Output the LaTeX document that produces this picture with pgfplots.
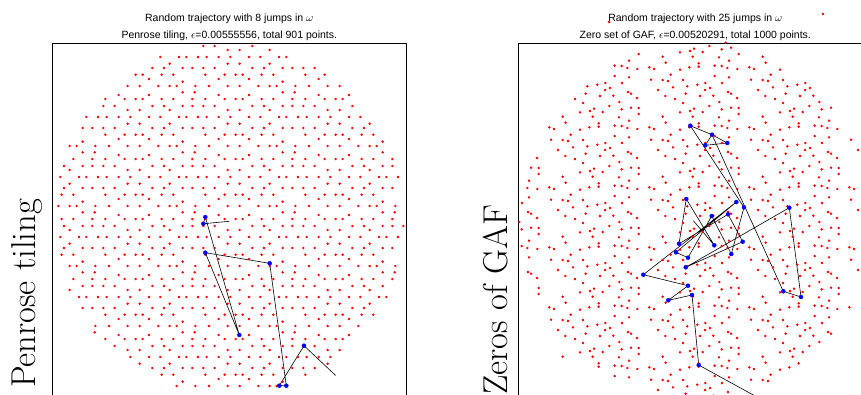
\documentclass[border=0pt]{standalone}
\usepackage{pgfplots}
\pgfplotsset{compat=1.18}
\usepackage{pgfplotstable}
\usepackage{fontspec}
\newfontfamily\arial{Liberation Sans}
\pgfplotstableread[row sep=\\]{x y\\
203.3 46\\ 214.7 46\\ 252.3 46\\
227.7 50\\ 239.7 50\\ 269.7 50\\
160.3 57\\ 179 57\\ 186.3 57\\ 198 57\\ 206.7 57\\ 218.7 57\\ 230.3 57\\ 249 57\\ 260.3 57\\ 279 57\\ 286.3 57\\
169.7 63.7\\ 227.7 63.7\\ 239.7 63.7\\ 269.7 63.7\\
152.3 68\\ 164 68\\ 182.7 68\\ 192.3 68\\ 203.3 68\\ 214.7 68\\ 252.3 68\\ 264 68\\ 282.7 68\\ 292.3 68\\ 303.3 68\\ 314.7 68\\
135.7 74.7\\ 142.7 74.7\\ 161.7 74.7\\ 173.3 74.7\\ 205.3 74.7\\ 224.7 74.7\\ 235.7 74.7\\ 242.7 74.7\\ 261.7 74.7\\ 273.3 74.7\\ 305.3 74.7\\ 324.7 74.7\\
149 79\\ 218.7 79\\ 249 79\\ 318.7 79\\
182.7 81.7\\ 282.7 81.7\\
127.7 86\\ 139.7 86\\ 158.3 86\\ 169.7 86\\ 176.7 86\\ 195.3 86\\ 209 86\\ 227.7 86\\ 239.7 86\\ 258.3 86\\ 269.7 86\\ 276.7 86\\ 295.3 86\\ 309 86\\ 327.7 86\\ 339.7 86\\
182.7 92.3\\ 194.7 92.3\\ 282.7 92.3\\ 294.7 92.3\\
118.7 95\\ 149 95\\ 218.7 95\\ 249 95\\ 318.7 95\\ 349 95\\
105.3 99\\ 124.7 99\\ 135.7 99\\ 142.7 99\\ 161.7 99\\ 173.3 99\\ 192.3 99\\ 205.3 99\\ 224.7 99\\ 235.7 99\\ 242.7 99\\ 261.7 99\\ 273.3 99\\ 292.3 99\\ 305.3 99\\ 324.7 99\\ 335.7 99\\ 342.7 99\\
103.3 106\\ 114.7 106\\ 152.3 106\\ 164 106\\ 182.7 106\\ 192.3 106\\ 203.3 106\\ 214.7 106\\ 252.3 106\\ 264 106\\ 282.7 106\\ 292.3 106\\ 303.3 106\\ 314.7 106\\ 352.3 106\\
127.7 110\\ 139.7 110\\ 169.7 110\\ 227.7 110\\ 239.7 110\\ 269.7 110\\ 327.7 110\\ 339.7 110\\
86.3 117\\ 98 117\\ 106.7 117\\ 118.7 117\\ 130.3 117\\ 149 117\\ 160.3 117\\ 179 117\\ 186.3 117\\ 198 117\\ 206.7 117\\ 218.7 117\\ 230.3 117\\ 249 117\\ 260.3 117\\ 279 117\\ 286.3 117\\ 298 117\\ 306.7 117\\ 318.7 117\\ 330.3 117\\ 349 117\\ 360.3 117\\
127.7 123.7\\ 139.7 123.7\\ 169.7 123.7\\ 227.7 123.7\\ 239.7 123.7\\ 269.7 123.7\\ 327.7 123.7\\ 339.7 123.7\\ 369.7 123.7\\
82.7 128\\ 92.3 128\\ 103.3 128\\ 114.7 128\\ 152.3 128\\ 164 128\\ 182.7 128\\ 192.3 128\\ 203.3 128\\ 214.7 128\\ 252.3 128\\ 264 128\\ 282.7 128\\ 292.3 128\\ 303.3 128\\ 314.7 128\\ 352.3 128\\ 364 128\\
105.3 134.7\\ 124.7 134.7\\ 135.7 134.7\\ 142.7 134.7\\ 161.7 134.7\\ 173.3 134.7\\ 205.3 134.7\\ 224.7 134.7\\ 235.7 134.7\\ 242.7 134.7\\ 261.7 134.7\\ 273.3 134.7\\ 305.3 134.7\\ 324.7 134.7\\ 335.7 134.7\\ 342.7 134.7\\ 361.7 134.7\\ 373.3 134.7\\
118.7 139\\ 149 139\\ 218.7 139\\ 249 139\\ 318.7 139\\ 349 139\\
82.7 141.7\\ 182.7 141.7\\ 282.7 141.7\\ 382.7 141.7\\
69.7 146\\ 76.7 146\\ 95.3 146\\ 109 146\\ 127.7 146\\ 139.7 146\\ 158.3 146\\ 169.7 146\\ 176.7 146\\ 195.3 146\\ 209 146\\ 227.7 146\\ 239.7 146\\ 258.3 146\\ 269.7 146\\ 276.7 146\\ 295.3 146\\ 309 146\\ 327.7 146\\ 339.7 146\\ 358.3 146\\ 369.7 146\\ 376.7 146\\
82.7 152.3\\ 94.7 152.3\\ 182.7 152.3\\ 194.7 152.3\\ 282.7 152.3\\ 294.7 152.3\\ 382.7 152.3\\
118.7 155\\ 149 155\\ 218.7 155\\ 249 155\\ 318.7 155\\ 349 155\\
73.3 159\\ 92.3 159\\ 105.3 159\\ 124.7 159\\ 135.7 159\\ 142.7 159\\ 161.7 159\\ 173.3 159\\ 192.3 159\\ 205.3 159\\ 224.7 159\\ 235.7 159\\ 242.7 159\\ 261.7 159\\ 273.3 159\\ 292.3 159\\ 305.3 159\\ 324.7 159\\ 335.7 159\\ 342.7 159\\ 361.7 159\\ 373.3 159\\ 392.3 159\\
64 166\\ 82.7 166\\ 92.3 166\\ 103.3 166\\ 114.7 166\\ 152.3 166\\ 164 166\\ 182.7 166\\ 192.3 166\\ 203.3 166\\ 214.7 166\\ 252.3 166\\ 264 166\\ 282.7 166\\ 292.3 166\\ 303.3 166\\ 314.7 166\\ 352.3 166\\ 364 166\\ 382.7 166\\ 392.3 166\\
69.7 170\\ 127.7 170\\ 139.7 170\\ 169.7 170\\ 227.7 170\\ 239.7 170\\ 269.7 170\\ 327.7 170\\ 339.7 170\\ 369.7 170\\
60.3 177\\ 79 177\\ 86.3 177\\ 98 177\\ 106.7 177\\ 118.7 177\\ 130.3 177\\ 149 177\\ 160.3 177\\ 179 177\\ 186.3 177\\ 198 177\\ 206.7 177\\ 218.7 177\\ 230.3 177\\ 249 177\\ 260.3 177\\ 279 177\\ 286.3 177\\ 298 177\\ 306.7 177\\ 318.7 177\\ 330.3 177\\ 349 177\\ 360.3 177\\ 379 177\\ 386.3 177\\ 398 177\\
69.7 183.7\\ 127.7 183.7\\ 139.7 183.7\\ 169.7 183.7\\ 227.7 183.7\\ 239.7 183.7\\ 269.7 183.7\\ 327.7 183.7\\ 339.7 183.7\\ 369.7 183.7\\
64 188\\ 82.7 188\\ 92.3 188\\ 103.3 188\\ 114.7 188\\ 152.3 188\\ 164 188\\ 182.7 188\\ 192.3 188\\ 203.3 188\\ 214.7 188\\ 252.3 188\\ 264 188\\ 282.7 188\\ 292.3 188\\ 303.3 188\\ 314.7 188\\ 352.3 188\\ 364 188\\ 382.7 188\\ 392.3 188\\
61.7 194.7\\ 73.3 194.7\\ 105.3 194.7\\ 124.7 194.7\\ 135.7 194.7\\ 142.7 194.7\\ 161.7 194.7\\ 173.3 194.7\\ 205.3 194.7\\ 224.7 194.7\\ 235.7 194.7\\ 242.7 194.7\\ 261.7 194.7\\ 273.3 194.7\\ 305.3 194.7\\ 324.7 194.7\\ 335.7 194.7\\ 342.7 194.7\\ 361.7 194.7\\ 373.3 194.7\\
118.7 199\\ 149 199\\ 218.7 199\\ 249 199\\ 318.7 199\\ 349 199\\
82.7 201.7\\ 182.7 201.7\\ 282.7 201.7\\ 382.7 201.7\\
58.3 206\\ 69.7 206\\ 76.7 206\\ 95.3 206\\ 109 206\\ 127.7 206\\ 139.7 206\\ 158.3 206\\ 169.7 206\\ 176.7 206\\ 195.3 206\\ 209 206\\ 227.7 206\\ 239.7 206\\ 258.3 206\\ 269.7 206\\ 276.7 206\\ 295.3 206\\ 309 206\\ 327.7 206\\ 339.7 206\\ 358.3 206\\ 369.7 206\\ 376.7 206\\ 395.3 206\\
82.7 212.3\\ 94.7 212.3\\ 182.7 212.3\\ 194.7 212.3\\ 282.7 212.3\\ 294.7 212.3\\ 382.7 212.3\\ 394.7 212.3\\
118.7 215\\ 149 215\\ 218.7 215\\ 249 215\\ 318.7 215\\ 349 215\\
61.7 219\\ 73.3 219\\ 92.3 219\\ 105.3 219\\ 124.7 219\\ 135.7 219\\ 142.7 219\\ 161.7 219\\ 173.3 219\\ 192.3 219\\ 205.3 219\\ 224.7 219\\ 235.7 219\\ 242.7 219\\ 261.7 219\\ 273.3 219\\ 292.3 219\\ 305.3 219\\ 324.7 219\\ 335.7 219\\ 342.7 219\\ 361.7 219\\ 373.3 219\\ 392.3 219\\
64 226\\ 82.7 226\\ 92.3 226\\ 103.3 226\\ 114.7 226\\ 152.3 226\\ 164 226\\ 182.7 226\\ 192.3 226\\ 203.3 226\\ 214.7 226\\ 252.3 226\\ 264 226\\ 282.7 226\\ 292.3 226\\ 303.3 226\\ 314.7 226\\ 352.3 226\\ 364 226\\ 382.7 226\\ 392.3 226\\ 403.3 226\\
69.7 230\\ 127.7 230\\ 139.7 230\\ 169.7 230\\ 227.7 230\\ 239.7 230\\ 269.7 230\\ 327.7 230\\ 339.7 230\\ 369.7 230\\
60.3 237\\ 79 237\\ 86.3 237\\ 98 237\\ 106.7 237\\ 118.7 237\\ 130.3 237\\ 149 237\\ 160.3 237\\ 179 237\\ 186.3 237\\ 198 237\\ 206.7 237\\ 218.7 237\\ 230.3 237\\ 249 237\\ 260.3 237\\ 279 237\\ 286.3 237\\ 298 237\\ 306.7 237\\ 318.7 237\\ 330.3 237\\ 349 237\\ 360.3 237\\ 379 237\\ 386.3 237\\ 398 237\\
69.7 243.7\\ 127.7 243.7\\ 139.7 243.7\\ 169.7 243.7\\ 227.7 243.7\\ 239.7 243.7\\ 269.7 243.7\\ 327.7 243.7\\ 339.7 243.7\\ 369.7 243.7\\
64 248\\ 82.7 248\\ 92.3 248\\ 103.3 248\\ 114.7 248\\ 152.3 248\\ 164 248\\ 182.7 248\\ 192.3 248\\ 203.3 248\\ 214.7 248\\ 252.3 248\\ 264 248\\ 282.7 248\\ 292.3 248\\ 303.3 248\\ 314.7 248\\ 352.3 248\\ 364 248\\ 382.7 248\\ 392.3 248\\
61.7 254.7\\ 73.3 254.7\\ 105.3 254.7\\ 124.7 254.7\\ 135.7 254.7\\ 142.7 254.7\\ 161.7 254.7\\ 173.3 254.7\\ 205.3 254.7\\ 224.7 254.7\\ 235.7 254.7\\ 242.7 254.7\\ 261.7 254.7\\ 273.3 254.7\\ 305.3 254.7\\ 324.7 254.7\\ 335.7 254.7\\ 342.7 254.7\\ 361.7 254.7\\ 373.3 254.7\\
118.7 259\\ 149 259\\ 218.7 259\\ 249 259\\ 318.7 259\\ 349 259\\
82.7 261.7\\ 182.7 261.7\\ 282.7 261.7\\ 382.7 261.7\\
69.7 266\\ 76.7 266\\ 95.3 266\\ 109 266\\ 127.7 266\\ 139.7 266\\ 158.3 266\\ 169.7 266\\ 176.7 266\\ 195.3 266\\ 209 266\\ 227.7 266\\ 239.7 266\\ 258.3 266\\ 269.7 266\\ 276.7 266\\ 295.3 266\\ 309 266\\ 327.7 266\\ 339.7 266\\ 358.3 266\\ 369.7 266\\ 376.7 266\\ 395.3 266\\
82.7 272.3\\ 94.7 272.3\\ 182.7 272.3\\ 194.7 272.3\\ 282.7 272.3\\ 294.7 272.3\\ 382.7 272.3\\ 394.7 272.3\\
118.7 275\\ 149 275\\ 218.7 275\\ 249 275\\ 318.7 275\\ 349 275\\
73.3 279\\ 92.3 279\\ 105.3 279\\ 124.7 279\\ 135.7 279\\ 142.7 279\\ 161.7 279\\ 173.3 279\\ 192.3 279\\ 205.3 279\\ 224.7 279\\ 235.7 279\\ 242.7 279\\ 261.7 279\\ 273.3 279\\ 292.3 279\\ 305.3 279\\ 324.7 279\\ 335.7 279\\ 342.7 279\\ 361.7 279\\ 373.3 279\\ 392.3 279\\
82.7 286\\ 92.3 286\\ 103.3 286\\ 114.7 286\\ 152.3 286\\ 164 286\\ 182.7 286\\ 192.3 286\\ 203.3 286\\ 214.7 286\\ 252.3 286\\ 264 286\\ 282.7 286\\ 292.3 286\\ 303.3 286\\ 314.7 286\\ 352.3 286\\ 364 286\\ 382.7 286\\
69.7 290\\ 127.7 290\\ 139.7 290\\ 169.7 290\\ 227.7 290\\ 239.7 290\\ 269.7 290\\ 327.7 290\\ 339.7 290\\ 369.7 290\\
79 297\\ 86.3 297\\ 98 297\\ 106.7 297\\ 118.7 297\\ 130.3 297\\ 149 297\\ 160.3 297\\ 179 297\\ 186.3 297\\ 198 297\\ 206.7 297\\ 218.7 297\\ 230.3 297\\ 249 297\\ 260.3 297\\ 279 297\\ 286.3 297\\ 298 297\\ 306.7 297\\ 318.7 297\\ 330.3 297\\ 349 297\\ 360.3 297\\ 379 297\\ 386.3 297\\
127.7 303.7\\ 139.7 303.7\\ 169.7 303.7\\ 227.7 303.7\\ 239.7 303.7\\ 269.7 303.7\\ 327.7 303.7\\ 339.7 303.7\\ 369.7 303.7\\
82.7 308\\ 92.3 308\\ 103.3 308\\ 114.7 308\\ 152.3 308\\ 164 308\\ 182.7 308\\ 192.3 308\\ 203.3 308\\ 214.7 308\\ 252.3 308\\ 264 308\\ 282.7 308\\ 292.3 308\\ 303.3 308\\ 314.7 308\\ 352.3 308\\ 364 308\\
105.3 314.7\\ 124.7 314.7\\ 135.7 314.7\\ 142.7 314.7\\ 161.7 314.7\\ 173.3 314.7\\ 205.3 314.7\\ 224.7 314.7\\ 235.7 314.7\\ 242.7 314.7\\ 261.7 314.7\\ 273.3 314.7\\ 305.3 314.7\\ 324.7 314.7\\ 335.7 314.7\\ 342.7 314.7\\ 361.7 314.7\\ 373.3 314.7\\
118.7 319\\ 149 319\\ 218.7 319\\ 249 319\\ 318.7 319\\ 349 319\\
182.7 321.7\\ 282.7 321.7\\
95.3 326\\ 109 326\\ 127.7 326\\ 139.7 326\\ 158.3 326\\ 169.7 326\\ 176.7 326\\ 195.3 326\\ 209 326\\ 227.7 326\\ 239.7 326\\ 258.3 326\\ 269.7 326\\ 276.7 326\\ 295.3 326\\ 309 326\\ 327.7 326\\ 339.7 326\\ 358.3 326\\
94.7 332.3\\ 182.7 332.3\\ 194.7 332.3\\ 282.7 332.3\\ 294.7 332.3\\
118.7 335\\ 149 335\\ 218.7 335\\ 249 335\\ 318.7 335\\ 349 335\\
105.3 339\\ 124.7 339\\ 135.7 339\\ 142.7 339\\ 161.7 339\\ 173.3 339\\ 192.3 339\\ 205.3 339\\ 224.7 339\\ 235.7 339\\ 242.7 339\\ 261.7 339\\ 273.3 339\\ 292.3 339\\ 305.3 339\\ 324.7 339\\ 335.7 339\\ 342.7 339\\
114.7 346\\ 152.3 346\\ 164 346\\ 182.7 346\\ 192.3 346\\ 203.3 346\\ 214.7 346\\ 252.3 346\\ 264 346\\ 282.7 346\\ 292.3 346\\ 303.3 346\\ 314.7 346\\
127.7 350\\ 139.7 350\\ 169.7 350\\ 227.7 350\\ 239.7 350\\ 269.7 350\\ 327.7 350\\ 339.7 350\\
130.3 357\\ 149 357\\ 160.3 357\\ 179 357\\ 186.3 357\\ 198 357\\ 206.7 357\\ 218.7 357\\ 230.3 357\\ 249 357\\ 260.3 357\\ 279 357\\ 286.3 357\\ 298 357\\ 306.7 357\\ 318.7 357\\ 330.3 357\\
139.7 363.7\\ 169.7 363.7\\ 227.7 363.7\\ 239.7 363.7\\ 269.7 363.7\\ 327.7 363.7\\
152.3 368\\ 164 368\\ 182.7 368\\ 192.3 368\\ 203.3 368\\ 214.7 368\\ 252.3 368\\ 264 368\\ 282.7 368\\ 292.3 368\\ 303.3 368\\ 314.7 368\\
161.7 374.7\\ 173.3 374.7\\ 205.3 374.7\\ 224.7 374.7\\ 235.7 374.7\\ 242.7 374.7\\ 261.7 374.7\\ 273.3 374.7\\ 305.3 374.7\\
218.7 379\\ 249 379\\
182.7 381.7\\ 282.7 381.7\\
176.7 386\\ 195.3 386\\ 209 386\\ 227.7 386\\ 239.7 386\\ 258.3 386\\ 269.7 386\\ 276.7 386\\
}\penrose
\pgfplotstableread[row sep=\\]{x y\\
357 14\\ 143 22\\ 259.7 42.7\\
243.3 46\\ 228 48.7\\ 224 51\\ 214 52.3\\ 236.7 52\\ 255.7 49.3\\ 265 47.7\\ 196.7 56.7\\ 226.7 56.7\\ 253 57.3\\ 272.7 54\\ 172.7 54\\ 296.7 56.7\\
148.7 65.7\\ 155.7 66\\ 161.3 68\\ 171.3 69\\ 163 60.7\\ 148.7 76\\ 163 77.3\\ 139.3 83\\ 131.3 84.7\\ 121.3 86.3\\ 156 83\\ 139 90\\ 144 88\\ 119.7 93.7\\ 147.3 95.7\\ 162 92\\ 165 93.7\\ 109 99\\ 134 96\\ 171 98\\ 117 103\\ 153.3 102\\ 143.3 106\\ 128 108.7\\ 124 111\\ 114 112.3\\ 136.7 112\\ 155.7 109.3\\ 165 107.7\\ 172.7 108\\ 96.7 116.7\\ 126.7 116.7\\ 153 117.3\\ 172.7 114\\
183.3 67.3\\ 188 69\\ 199.7 62.7\\ 214 69.7\\ 223.3 67.3\\ 232.7 63.3\\ 232.7 66.7\\ 248.7 65.7\\ 255.7 66\\ 261.3 68\\ 271.3 69\\ 263 60.7\\ 204.7 74.7\\ 185 79.7\\ 196.7 80\\ 202 81\\ 217 80\\ 248.7 76\\ 263 77.3\\ 239.3 83\\ 231.3 84.7\\ 221.3 86.3\\ 256 83\\ 207 87.3\\ 192 90\\ 239 90\\ 244 88\\ 219.7 93.7\\ 247.3 95.7\\ 262 92\\ 265 93.7\\ 199.3 96\\ 209 99\\ 234 96\\ 271 98\\ 217 103\\ 253.3 102\\ 243.3 106\\ 228 108.7\\ 224 111\\ 214 112.3\\ 236.7 112\\ 255.7 109.3\\ 265 107.7\\ 272.7 108\\ 196.7 116.7\\ 226.7 116.7\\ 253 117.3\\ 272.7 114\\
283.3 67.3\\ 288 69\\ 299.7 62.7\\ 314 69.7\\ 304.7 74.7\\ 285 79.7\\ 296.7 80\\ 302 81\\ 317 80\\ 339.3 83\\ 331.3 84.7\\ 321.3 86.3\\ 307 87.3\\ 292 90\\ 339 90\\ 344 88\\ 319.7 93.7\\ 347.3 95.7\\ 299.3 96\\ 309 99\\ 334 96\\ 317 103\\ 353.3 102\\ 343.3 106\\ 328 108.7\\ 324 111\\ 314 112.3\\ 336.7 112\\ 355.7 109.3\\ 365 107.7\\ 296.7 116.7\\ 326.7 116.7\\ 353 117.3\\
83.3 127.3\\ 88 129\\ 99.7 122.7\\ 114 129.7\\ 123.3 127.3\\ 132.7 123.3\\ 132.7 126.7\\ 148.7 125.7\\ 155.7 126\\ 161.3 128\\ 171.3 129\\ 163 120.7\\ 104.7 134.7\\ 85 139.7\\ 96.7 140\\ 102 141\\ 117 140\\ 148.7 136\\ 163 137.3\\ 139.3 143\\ 131.3 144.7\\ 121.3 146.3\\ 156 143\\ 107 147.3\\ 92 150\\ 139 150\\ 144 148\\ 119.7 153.7\\ 147.3 155.7\\ 162 152\\ 165 153.7\\ 99.3 156\\ 109 159\\ 134 156\\ 171 158\\ 117 163\\ 153.3 162\\ 143.3 166\\ 128 168.7\\ 124 171\\ 114 172.3\\ 136.7 172\\ 155.7 169.3\\ 165 167.7\\ 172.7 168\\ 96.7 176.7\\ 126.7 176.7\\ 153 177.3\\ 172.7 174\\
183.3 127.3\\ 188 129\\ 199.7 122.7\\ 214 129.7\\ 223.3 127.3\\ 232.7 123.3\\ 232.7 126.7\\ 248.7 125.7\\ 255.7 126\\ 261.3 128\\ 271.3 129\\ 263 120.7\\ 204.7 134.7\\ 185 139.7\\ 196.7 140\\ 202 141\\ 217 140\\ 248.7 136\\ 263 137.3\\ 239.3 143\\ 231.3 144.7\\ 221.3 146.3\\ 256 143\\ 207 147.3\\ 192 150\\ 239 150\\ 244 148\\ 219.7 153.7\\ 247.3 155.7\\ 262 152\\ 265 153.7\\ 199.3 156\\ 209 159\\ 234 156\\ 271 158\\ 217 163\\ 253.3 162\\ 243.3 166\\ 228 168.7\\ 224 171\\ 214 172.3\\ 236.7 172\\ 255.7 169.3\\ 265 167.7\\ 272.7 168\\ 196.7 176.7\\ 226.7 176.7\\ 253 177.3\\ 272.7 174\\
283.3 127.3\\ 288 129\\ 299.7 122.7\\ 314 129.7\\ 323.3 127.3\\ 332.7 123.3\\ 332.7 126.7\\ 348.7 125.7\\ 355.7 126\\ 361.3 128\\ 371.3 129\\ 363 120.7\\ 304.7 134.7\\ 285 139.7\\ 296.7 140\\ 302 141\\ 317 140\\ 348.7 136\\ 363 137.3\\ 339.3 143\\ 331.3 144.7\\ 321.3 146.3\\ 356 143\\ 307 147.3\\ 292 150\\ 339 150\\ 344 148\\ 319.7 153.7\\ 347.3 155.7\\ 362 152\\ 365 153.7\\ 299.3 156\\ 309 159\\ 334 156\\ 371 158\\ 317 163\\ 353.3 162\\ 343.3 166\\ 328 168.7\\ 324 171\\ 314 172.3\\ 336.7 172\\ 355.7 169.3\\ 365 167.7\\ 372.7 168\\ 296.7 176.7\\ 326.7 176.7\\ 353 177.3\\ 372.7 174\\
71 158\\ 65 167.7\\ 72.7 168\\ 72.7 174\\ 385 139.7\\ 392 150\\
61.3 188\\ 71.3 189\\ 63 180.7\\ 63 197.3\\ 56 203\\ 62 212\\ 65 213.7\\ 71 218\\ 53.3 222\\ 55.7 229.3\\ 65 227.7\\ 72.7 228\\ 72.7 234\\
383.3 187.3\\ 388 189\\ 385 199.7\\ 392 210\\
83.3 187.3\\ 88 189\\ 99.7 182.7\\ 114 189.7\\ 123.3 187.3\\ 132.7 183.3\\ 132.7 186.7\\ 148.7 185.7\\ 155.7 186\\ 161.3 188\\ 171.3 189\\ 163 180.7\\ 104.7 194.7\\ 85 199.7\\ 96.7 200\\ 102 201\\ 117 200\\ 148.7 196\\ 163 197.3\\ 139.3 203\\ 131.3 204.7\\ 121.3 206.3\\ 156 203\\ 107 207.3\\ 92 210\\ 139 210\\ 144 208\\ 119.7 213.7\\ 147.3 215.7\\ 162 212\\ 165 213.7\\ 99.3 216\\ 109 219\\ 134 216\\ 171 218\\ 117 223\\ 153.3 222\\ 143.3 226\\ 128 228.7\\ 124 231\\ 114 232.3\\ 136.7 232\\ 155.7 229.3\\ 165 227.7\\ 172.7 228\\ 96.7 236.7\\ 126.7 236.7\\ 153 237.3\\ 172.7 234\\
183.3 187.3\\ 188 189\\ 199.7 182.7\\ 214 189.7\\ 223.3 187.3\\ 232.7 183.3\\ 232.7 186.7\\ 248.7 185.7\\ 255.7 186\\ 261.3 188\\ 271.3 189\\ 263 180.7\\ 204.7 194.7\\ 185 199.7\\ 196.7 200\\ 202 201\\ 217 200\\ 248.7 196\\ 263 197.3\\ 239.3 203\\ 231.3 204.7\\ 221.3 206.3\\ 256 203\\ 207 207.3\\ 192 210\\ 239 210\\ 244 208\\ 219.7 213.7\\ 247.3 215.7\\ 262 212\\ 265 213.7\\ 199.3 216\\ 209 219\\ 234 216\\ 271 218\\ 217 223\\ 253.3 222\\ 243.3 226\\ 228 228.7\\ 224 231\\ 214 232.3\\ 236.7 232\\ 255.7 229.3\\ 265 227.7\\ 272.7 228\\ 196.7 236.7\\ 226.7 236.7\\ 253 237.3\\ 272.7 234\\
283.3 187.3\\ 288 189\\ 299.7 182.7\\ 314 189.7\\ 323.3 187.3\\ 332.7 183.3\\ 332.7 186.7\\ 348.7 185.7\\ 355.7 186\\ 361.3 188\\ 371.3 189\\ 363 180.7\\ 304.7 194.7\\ 285 199.7\\ 296.7 200\\ 302 201\\ 317 200\\ 348.7 196\\ 363 197.3\\ 339.3 203\\ 331.3 204.7\\ 321.3 206.3\\ 356 203\\ 307 207.3\\ 292 210\\ 339 210\\ 344 208\\ 319.7 213.7\\ 347.3 215.7\\ 362 212\\ 365 213.7\\ 299.3 216\\ 309 219\\ 334 216\\ 371 218\\ 317 223\\ 353.3 222\\ 343.3 226\\ 328 228.7\\ 324 231\\ 314 232.3\\ 336.7 232\\ 355.7 229.3\\ 365 227.7\\ 372.7 228\\ 296.7 236.7\\ 326.7 236.7\\ 353 237.3\\ 372.7 234\\
55.7 246\\ 61.3 248\\ 71.3 249\\ 63 240.7\\ 63 257.3\\ 62 272\\ 65 273.7\\ 71 278\\ 72.7 288\\ 72.7 294\\
383.3 247.3\\ 388 249\\ 385 259.7\\ 392 270\\ 383.3 307.3\\
83.3 247.3\\ 88 249\\ 99.7 242.7\\ 114 249.7\\ 123.3 247.3\\ 132.7 243.3\\ 132.7 246.7\\ 148.7 245.7\\ 155.7 246\\ 161.3 248\\ 171.3 249\\ 163 240.7\\ 104.7 254.7\\ 85 259.7\\ 96.7 260\\ 102 261\\ 117 260\\ 148.7 256\\ 163 257.3\\ 139.3 263\\ 131.3 264.7\\ 121.3 266.3\\ 156 263\\ 107 267.3\\ 92 270\\ 139 270\\ 144 268\\ 119.7 273.7\\ 147.3 275.7\\ 162 272\\ 165 273.7\\ 99.3 276\\ 109 279\\ 134 276\\ 171 278\\ 117 283\\ 153.3 282\\ 143.3 286\\ 128 288.7\\ 124 291\\ 114 292.3\\ 136.7 292\\ 155.7 289.3\\ 165 287.7\\ 172.7 288\\ 96.7 296.7\\ 126.7 296.7\\ 153 297.3\\ 172.7 294\\
183.3 247.3\\ 188 249\\ 199.7 242.7\\ 214 249.7\\ 223.3 247.3\\ 232.7 243.3\\ 232.7 246.7\\ 248.7 245.7\\ 255.7 246\\ 261.3 248\\ 271.3 249\\ 263 240.7\\ 204.7 254.7\\ 185 259.7\\ 196.7 260\\ 202 261\\ 217 260\\ 248.7 256\\ 263 257.3\\ 239.3 263\\ 231.3 264.7\\ 221.3 266.3\\ 256 263\\ 207 267.3\\ 192 270\\ 239 270\\ 244 268\\ 219.7 273.7\\ 247.3 275.7\\ 262 272\\ 265 273.7\\ 199.3 276\\ 209 279\\ 234 276\\ 271 278\\ 217 283\\ 253.3 282\\ 243.3 286\\ 228 288.7\\ 224 291\\ 214 292.3\\ 236.7 292\\ 255.7 289.3\\ 265 287.7\\ 272.7 288\\ 196.7 296.7\\ 226.7 296.7\\ 253 297.3\\ 272.7 294\\
283.3 247.3\\ 288 249\\ 299.7 242.7\\ 314 249.7\\ 323.3 247.3\\ 332.7 243.3\\ 332.7 246.7\\ 348.7 245.7\\ 355.7 246\\ 361.3 248\\ 371.3 249\\ 363 240.7\\ 304.7 254.7\\ 285 259.7\\ 296.7 260\\ 302 261\\ 317 260\\ 348.7 256\\ 363 257.3\\ 339.3 263\\ 331.3 264.7\\ 321.3 266.3\\ 356 263\\ 307 267.3\\ 292 270\\ 339 270\\ 344 268\\ 319.7 273.7\\ 347.3 275.7\\ 362 272\\ 365 273.7\\ 299.3 276\\ 309 279\\ 334 276\\ 371 278\\ 317 283\\ 353.3 282\\ 343.3 286\\ 328 288.7\\ 324 291\\ 314 292.3\\ 336.7 292\\ 355.7 289.3\\ 365 287.7\\ 372.7 288\\ 296.7 296.7\\ 326.7 296.7\\ 353 297.3\\ 372.7 294\\
83.3 307.3\\ 88 309\\ 99.7 302.7\\ 114 309.7\\ 123.3 307.3\\ 132.7 303.3\\ 132.7 306.7\\ 148.7 305.7\\ 155.7 306\\ 161.3 308\\ 171.3 309\\ 163 300.7\\ 104.7 314.7\\ 85 319.7\\ 96.7 320\\ 102 321\\ 117 320\\ 148.7 316\\ 163 317.3\\ 139.3 323\\ 131.3 324.7\\ 121.3 326.3\\ 156 323\\ 107 327.3\\ 92 330\\ 139 330\\ 144 328\\ 119.7 333.7\\ 147.3 335.7\\ 162 332\\ 165 333.7\\ 99.3 336\\ 109 339\\ 134 336\\ 171 338\\ 117 343\\ 153.3 342\\ 143.3 346\\ 128 348.7\\ 124 351\\ 114 352.3\\ 136.7 352\\ 155.7 349.3\\ 165 347.7\\ 172.7 348\\ 96.7 356.7\\ 126.7 356.7\\ 153 357.3\\ 172.7 354\\
183.3 307.3\\ 188 309\\ 199.7 302.7\\ 214 309.7\\ 223.3 307.3\\ 232.7 303.3\\ 232.7 306.7\\ 248.7 305.7\\ 255.7 306\\ 261.3 308\\ 271.3 309\\ 263 300.7\\ 204.7 314.7\\ 185 319.7\\ 196.7 320\\ 202 321\\ 217 320\\ 248.7 316\\ 263 317.3\\ 239.3 323\\ 231.3 324.7\\ 221.3 326.3\\ 256 323\\ 207 327.3\\ 192 330\\ 239 330\\ 244 328\\ 219.7 333.7\\ 247.3 335.7\\ 262 332\\ 265 333.7\\ 199.3 336\\ 209 339\\ 234 336\\ 271 338\\ 217 343\\ 253.3 342\\ 243.3 346\\ 228 348.7\\ 224 351\\ 214 352.3\\ 236.7 352\\ 255.7 349.3\\ 265 347.7\\ 272.7 348\\ 196.7 356.7\\ 226.7 356.7\\ 253 357.3\\ 272.7 354\\
283.3 307.3\\ 288 309\\ 299.7 302.7\\ 314 309.7\\ 323.3 307.3\\ 332.7 303.3\\ 332.7 306.7\\ 348.7 305.7\\ 355.7 306\\ 361.3 308\\ 371.3 309\\ 363 300.7\\ 304.7 314.7\\ 285 319.7\\ 296.7 320\\ 302 321\\ 317 320\\ 348.7 316\\ 363 317.3\\ 339.3 323\\ 331.3 324.7\\ 321.3 326.3\\ 356 323\\ 307 327.3\\ 292 330\\ 339 330\\ 344 328\\ 319.7 333.7\\ 347.3 335.7\\ 362 332\\ 365 333.7\\ 299.3 336\\ 309 339\\ 334 336\\ 317 343\\ 353.3 342\\ 343.3 346\\ 328 348.7\\ 324 351\\ 314 352.3\\ 336.7 352\\ 296.7 356.7\\ 326.7 356.7\\
132.7 363.3\\ 132.7 366.7\\ 148.7 365.7\\ 155.7 366\\ 161.3 368\\ 171.3 369\\ 163 360.7\\ 148.7 376\\ 163 377.3\\
183.3 367.3\\ 188 369\\ 199.7 362.7\\ 214 369.7\\ 223.3 367.3\\ 232.7 363.3\\ 232.7 366.7\\ 248.7 365.7\\ 255.7 366\\ 261.3 368\\ 271.3 369\\ 263 360.7\\ 204.7 374.7\\ 185 379.7\\ 196.7 380\\ 202 381\\ 217 380\\ 248.7 376\\ 263 377.3\\ 239.3 383\\ 231.3 384.7\\ 221.3 386.3\\ 256 383\\ 207 387.3\\ 192 390\\ 239 390\\ 244 388\\ 219.7 393.7\\ 247.3 395.7\\ 262 392\\
283.3 367.3\\ 288 369\\ 299.7 362.7\\ 314 369.7\\ 323.3 367.3\\ 332.7 363.3\\ 304.7 374.7\\ 285 379.7\\ 296.7 380\\ 302 381\\
}\gaf
\tikzset{
  ttl/.style={font=\arial\fontsize{10.5}{12}\selectfont, anchor=base, inner sep=0pt},
  big/.style={font=\fontsize{34.5}{35}\selectfont, rotate=90, anchor=base, inner sep=0pt}
}
\pgfplotsset{
  panel/.style={x=1pt, y=1pt, y dir=reverse, xmin=52.3, xmax=406.3, ymin=43, ymax=480,
    axis line style={line width=0.8pt, black}, xtick=\empty, ytick=\empty, clip=false,
    anchor=north west},
  pts/.style={only marks, mark=*, mark size=1pt, color=red, mark options={draw=none, fill=red}},
  traj/.style={black, line width=0.6pt, no marks},
  jumps/.style={only marks, mark=*, mark size=2pt, color=blue, mark options={draw=none, fill=blue}}
}
\begin{document}
\begin{tikzpicture}
\useasboundingbox (0,0) rectangle (861pt,-394pt);
\clip (0,0) rectangle (861pt,-394pt);
\begin{axis}[panel, at={(52.3pt,-43pt)}]
\addplot[pts] table {\penrose};
\addplot[traj] coordinates {(229.3,221.3)(203.3,223.7)(205.3,217)(239.3,335)(205.3,252.7)(269.7,263.3)(286.3,385.7)(279.3,385.7)(304,345.7)(335.7,375.5)};
\addplot[jumps] coordinates {(203.3,223.7)(205.3,217)(239.3,335)(205.3,252.7)(269.7,263.3)(286.3,385.7)(279.3,385.7)(304,345.7)};
\node[ttl] at (axis cs:229.3,21) {Random trajectory with 8 jumps in $\omega$};
\node[ttl] at (axis cs:229.3,38.3) {Penrose tiling, $\epsilon$=0.00555556, total 901 points.};
\node[big] at (axis cs:36,293.5) {Penrose tiling};
\end{axis}
\begin{axis}[panel, at={(518.3pt,-43pt)}]
\addplot[pts] table {\gaf};
\addplot[traj] coordinates {(227.3,220.7)(248.3,245.3)(220.3,199)(213,243.7)(262,214.3)(276.7,241.7)(219.7,267.3)(323.3,207.7)(335,297)(317.3,291.3)(246,134.7)(261.3,143)(239.3,145.3)(246,134.7)(224.3,125.7)(278,207.3)(265.3,254)(245.7,216)(222,257.7)(210,252.3)(270.3,202)(177.3,274.7)(222,285.7)(202.3,300.3)(226,295)(232.7,365)(300,402)};
\addplot[jumps] coordinates {(248.3,245.3)(220.3,199)(213,243.7)(210,252.3)(222,257.7)(245.7,216)(265.3,254)(278,207.3)(317.3,291.3)(335,297)(323.3,207.7)(219.7,267.3)(276.7,241.7)(262,214.3)(246,134.7)(261.3,143)(239.3,145.3)(224.3,125.7)(270.3,202)(177.3,274.7)(222,285.7)(202.3,300.3)(226,295)(232.7,365)};
\node[ttl] at (axis cs:229.3,21) {Random trajectory with 25 jumps in $\omega$};
\node[ttl] at (axis cs:229.3,38.3) {Zero set of GAF, $\epsilon$=0.00520291, total 1000 points.};
\node[big] at (axis cs:41,300) {Zeros of GAF};
\end{axis}
\end{tikzpicture}
\end{document}
